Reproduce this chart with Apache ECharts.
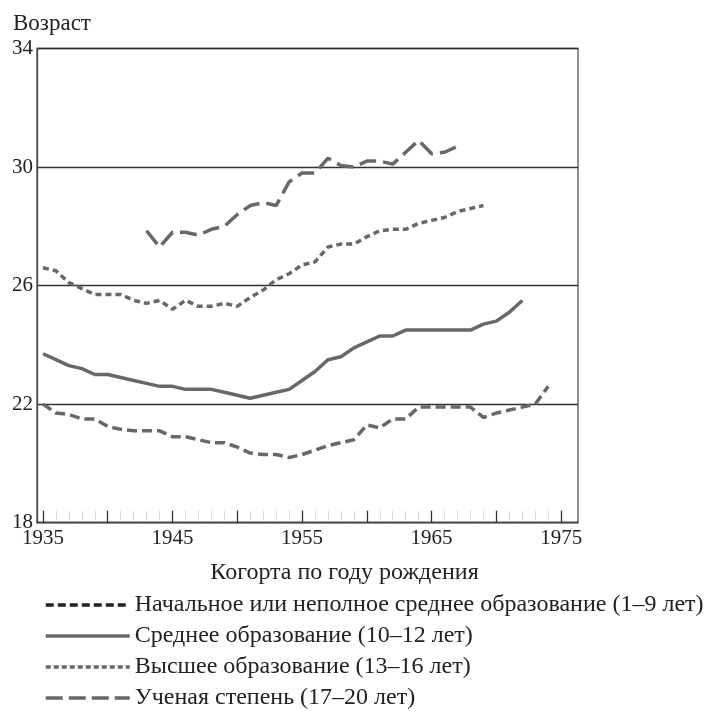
<!DOCTYPE html>
<html>
<head>
<meta charset="utf-8">
<script src="https://cdn.jsdelivr.net/npm/echarts@6/dist/echarts.min.js"></script>
<style>
  html, body { margin: 0; padding: 0; background: #fff; }
  #chart { width: 707px; height: 712px; }
</style>
</head>
<body>
<div id="chart"></div>
<script>
// годы когорт
var years = [];
for (var y = 1935; y <= 1974; y++) years.push(y);

var names = [
	'Начальное или неполное среднее образование (1–9 лет)',
	'Среднее образование (10–12 лет)',
	'Высшее образование (13–16 лет)',
	'Ученая степень (17–20 лет)'
];

// значения по годам 1935..1974, null = нет данных
var primary = [22.0, 21.7, 21.65, 21.5, 21.5, 21.25, 21.15, 21.1, 21.1, 21.1,
	20.9, 20.9, 20.8, 20.7, 20.7, 20.55, 20.35, 20.3, 20.3, 20.2,
	20.3, 20.45, 20.6, 20.7, 20.8, 21.3, 21.2, 21.5, 21.5, 21.9,
	21.9, 21.9, 21.9, 21.9, 21.55, 21.7, 21.8, 21.9, 22.0, 22.6];
var secondary = [23.7, 23.5, 23.3, 23.2, 23.0, 23.0, 22.9, 22.8, 22.7, 22.6,
	22.6, 22.5, 22.5, 22.5, 22.4, 22.3, 22.2, 22.3, 22.4, 22.5,
	22.8, 23.1, 23.5, 23.6, 23.9, 24.1, 24.3, 24.3, 24.5, 24.5,
	24.5, 24.5, 24.5, 24.5, 24.7, 24.8, 25.1, 25.5, null, null];
var higher = [26.6, 26.5, 26.1, 25.9, 25.7, 25.7, 25.7, 25.5, 25.4, 25.5,
	25.2, 25.5, 25.3, 25.3, 25.4, 25.3, 25.6, 25.85, 26.2, 26.4,
	26.7, 26.8, 27.3, 27.4, 27.4, 27.65, 27.85, 27.9, 27.9, 28.1,
	28.2, 28.3, 28.5, 28.6, 28.7, null, null, null, null, null];
var degree = [null, null, null, null, null, null, null, null, 27.85, 27.3,
	27.8, 27.8, 27.7, 27.9, 28.0, 28.4, 28.7, 28.8, 28.7, 29.5,
	29.8, 29.8, 30.3, 30.05, 30.0, 30.2, 30.2, 30.1, 30.5, 30.9,
	30.45, 30.5, 30.7, null, null, null, null, null, null, null];

var xLabels = [1935, 1945, 1955, 1965, 1975];
var xMajor = [1935, 1940, 1945, 1950, 1955, 1960, 1965, 1970, 1975];

function $each(arr, fn){ for (var i = 0; i < arr.length; i++) fn(i, arr[i]); }
function pairs(vals){
	var out = [];
	$each(vals, function(i, v){
		if (v !== null) out.push([years[i], v]);
	});
	return out;
}

var font = '"Liberation Serif", "DejaVu Serif", serif';
var gray = '#686868';
var dashes = [[10, 5], 'solid', [6, 4], [17, 7]];

function line(i, vals){
	return {
		name: names[i],
		type: 'line',
		xAxisIndex: 0,
		symbol: 'none',
		data: pairs(vals),
		lineStyle: { color: gray, width: 3.5, type: dashes[i], cap: 'butt' },
		itemStyle: { color: gray },
		animation: false,
		z: 3
	};
}

var myChart = echarts.init(document.getElementById('chart'));
var option = {
	backgroundColor: '#fff',
	animation: false,
	title: {
		text: 'Возраст',
		left: 8, top: 7,
		textStyle: { fontFamily: font, fontSize: 23, fontWeight: 'normal', color: '#222' }
	},
	grid: {
		left: 37, right: 129, top: 48.5, bottom: 189.3,
		show: true, borderColor: '#555', borderWidth: 1.3, backgroundColor: 'transparent'
	},
	legend: {
		orient: 'vertical',
		left: 44, top: 593, height: 119,
		padding: 0,
		itemWidth: 84, itemHeight: 20, itemGap: 7,
		itemStyle: { opacity: 0 },
		textStyle: { fontFamily: font, fontSize: 24, color: '#222' },
		data: [
			{ name: names[0], lineStyle: { color: '#222', width: 3.5, type: [8, 4] } },
			{ name: names[1], lineStyle: { color: gray, width: 3.5, type: 'solid' } },
			{ name: names[2], lineStyle: { color: gray, width: 3.5, type: [5, 3] } },
			{ name: names[3], lineStyle: { color: gray, width: 3.5, type: [17, 6] } }
		]
	},
	xAxis: [
		{
			type: 'value',
			min: 1934.54, max: 1976.3,
			name: 'Когорта по году рождения',
			nameLocation: 'middle', nameGap: 38,
			nameTextStyle: { fontFamily: font, fontSize: 24, color: '#222', padding: [0, 0, 0, 74] },
			axisLine: { show: true, lineStyle: { color: '#444', width: 1.3 } },
			axisTick: { show: true, inside: true, length: 12, customValues: xMajor,
				lineStyle: { color: '#333', width: 1.3 } },
			axisLabel: { customValues: xLabels, margin: 5, fontFamily: font, fontSize: 21, color: '#222',
				formatter: function(v){ return String(v); } },
			splitLine: { show: false },
			z: 5
		},
		{
			type: 'value',
			min: 1934.54, max: 1976.3,
			position: 'bottom',
			axisLine: { show: false },
			axisTick: { show: true, inside: true, length: 12, customValues: years,
				lineStyle: { color: '#dcdcdc', width: 1 } },
			axisLabel: { show: false },
			splitLine: { show: false },
			z: 1
		}
	],
	yAxis: {
		type: 'value',
		min: 18, max: 34, interval: 4,
		axisLine: { show: true, lineStyle: { color: '#444', width: 1.3 } },
		axisTick: { show: false },
		axisLabel: { margin: 4, fontFamily: font, fontSize: 21, color: '#222' },
		splitLine: { show: true, lineStyle: { color: '#333', width: 1.3 } }
	},
	series: [
		line(0, primary),
		line(1, secondary),
		line(2, higher),
		line(3, degree)
	]
};
myChart.setOption(option);
</script>
</body>
</html>
